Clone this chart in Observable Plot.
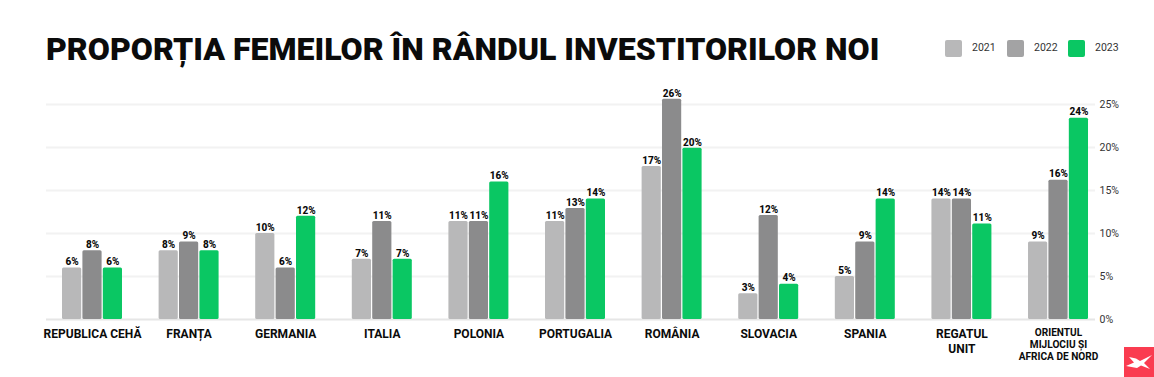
<!DOCTYPE html>
<html lang="ro">
<head>
<meta charset="utf-8">
<script src="https://cdn.jsdelivr.net/npm/d3@7"></script>
<script src="https://cdn.jsdelivr.net/npm/@observablehq/plot@0.6"></script>
<style>
html,body{margin:0;padding:0;background:#fff;font-family:Roboto,sans-serif;}
#page{position:relative;width:1154px;height:377px;overflow:hidden;}
#title{position:absolute;left:46px;top:27px;font-size:32.05px;font-weight:900;color:#0b0b0b;line-height:44px;white-space:nowrap;}
.sw{position:absolute;top:40px;width:17px;height:17px;border-radius:2px;}
.lt{position:absolute;top:41px;font-size:10.5px;line-height:14px;color:#333;}
#chart{position:absolute;left:0;top:88px;}
#logo{position:absolute;left:1124px;top:347px;width:30px;height:30px;background:#fa3c50;}
</style>
</head>
<body>
<div id="page">
  <div id="title">PROPORȚIA FEMEILOR ÎN RÂNDUL INVESTITORILOR NOI</div>
  <div id="legend"></div>
  <div id="chart"></div>
  <div id="logo"><svg width="30" height="30" viewBox="0 0 30 30"><path fill="#fff" d="M2 19 L10 15.5 L5 10 L12 11.5 L16 14 L28 8 L20 16 L26 22 L17 18.5 L13 21 Z"/></svg></div>
</div>
<script>
const categories = ["REPUBLICA CEHĂ","FRANȚA","GERMANIA","ITALIA","POLONIA","PORTUGALIA","ROMÂNIA","SLOVACIA","SPANIA","REGATUL\nUNIT","ORIENTUL\nMIJLOCIU ȘI\nAFRICA DE NORD"];
const years = ["2021","2022","2023"];
const values2021 = [6,8,10,7,11.4,11.4,17.8,3,5,14,9];
const values2022 = [8,9,6,11.4,11.4,12.9,25.6,12.1,9,14,16.2];
const values2023 = [6,8,12,7,16,14,19.9,4.1,14,11.1,23.4];
const labels2021 = ["6%","8%","10%","7%","11%","11%","17%","3%","5%","14%","9%"];
const labels2022 = ["8%","9%","6%","11%","11%","13%","26%","12%","9%","14%","16%"];
const labels2023 = ["6%","8%","12%","7%","16%","14%","20%","4%","14%","11%","24%"];
const colors = ["#b8b8b9","#8b8b8c","#0ac763"];
const legendColors = ["#b8b8b9","#a3a3a4","#0ac763"];
const yTicks = [0,5,10,15,20,25];

const series = [[values2021,labels2021],[values2022,labels2022],[values2023,labels2023]].map(([vals,labs],s)=>
  categories.map((c,i)=>({category:c,year:years[s],value:vals[i],label:labs[i]})));

const legend = document.getElementById("legend");
const swLeft=[945,1007,1068], ltLeft=[972,1034,1095];
years.forEach((y,i)=>{
  const s=document.createElement("div");s.className="sw";s.style.left=swLeft[i]+"px";s.style.background=legendColors[i];legend.appendChild(s);
  const t=document.createElement("div");t.className="lt";t.style.left=ltLeft[i]+"px";t.textContent=y;legend.appendChild(t);
});

const barW = 19.2, barStep = 20.4, band = 60;
const chart = Plot.plot({
  width:1154, height:289,
  marginTop:16, marginBottom:58, marginLeft:46, marginRight:59,
  style:{fontFamily:"Roboto, sans-serif",background:"transparent",overflow:"visible"},
  x:{domain:categories,round:false,paddingInner:0.379,paddingOuter:0.119,align:0.696,axis:null,label:null},
  y:{domain:[0,25],axis:null,label:null},
  color:{domain:years,range:colors},
  marks:[
    Plot.ruleY(yTicks.filter(d=>d>0),{y:d=>d,stroke:"#f2f2f2",strokeWidth:2}),
    Plot.ruleY([0],{stroke:"#e6e6e6",strokeWidth:2}),
    ...series.flatMap((rows,s)=>[
      Plot.barY(rows,{x:"category",y:"value",fill:"year",rx:1.5,insetLeft:s*barStep,insetRight:band-barW-s*barStep}),
      Plot.text(rows,{x:"category",y:"value",text:"label",dx:(s-1)*barStep,dy:-6,fontSize:10,fontWeight:800,fill:"#0b0b0b"})
    ]),
    Plot.axisY(yTicks,{anchor:"right",tickSize:0,tickPadding:4,tickFormat:d=>d+"%",fontSize:10.5,fill:"#333",label:null}),
    Plot.axisX(categories.slice(0,10),{anchor:"bottom",tickSize:0,tickPadding:7,fontSize:12,fontWeight:700,fill:"#0b0b0b",lineHeight:1.3,label:null}),
    Plot.axisX(categories.slice(10),{anchor:"bottom",tickSize:0,tickPadding:8,fontSize:10.1,fontWeight:700,fill:"#0b0b0b",lineHeight:1.17,label:null})
  ]
});
document.getElementById("chart").appendChild(chart);
</script>
</body>
</html>
